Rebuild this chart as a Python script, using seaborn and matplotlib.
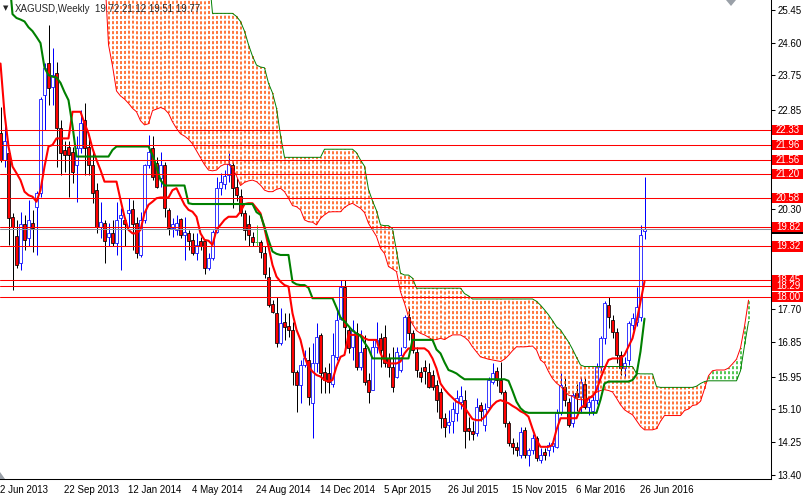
import numpy as np
import pandas as pd
import matplotlib
matplotlib.use("Agg")
import matplotlib.pyplot as plt
import matplotlib.transforms as mtransforms
from matplotlib.collections import LineCollection
from matplotlib.patches import Polygon, Rectangle
import seaborn as sns

# XAGUSD weekly candles, week 0 = 2 Jun 2013 ... week 161 = 3 Jul 2016
opens = [
    22.25, 21.56, 21.73, 20.09, 19.59, 18.88, 19.90, 19.53, 19.92, 20.35,
    20.70, 23.25, 24.07, 23.46, 23.81, 22.38, 21.82, 21.91, 21.78, 21.43,
    21.86, 22.60, 21.91, 21.43, 20.78, 19.83, 19.92, 19.57, 19.66, 19.40,
    20.05, 20.01, 20.18, 20.28, 19.92, 19.10, 20.01, 21.43, 21.86, 21.48,
    21.09, 21.43, 20.27, 19.79, 19.75, 20.03, 19.62, 19.66, 19.49, 19.14,
    19.45, 19.45, 18.75, 19.01, 19.70, 20.83, 20.95, 21.17, 21.43, 20.87,
    20.63, 20.18, 19.90, 19.56, 19.44, 19.44, 19.14, 18.54, 17.83, 17.59,
    16.81, 17.37, 17.26, 17.16, 16.08, 15.73, 16.25, 16.38, 15.26, 16.29,
    17.03, 16.08, 16.03, 15.77, 16.46, 17.45, 18.28, 17.16, 16.72, 17.07,
    16.21, 16.68, 15.86, 15.60, 16.72, 16.94, 16.98, 16.42, 16.21, 15.95,
    16.12, 16.72, 17.50, 17.07, 16.59, 16.08, 16.21, 16.08, 15.99, 15.73,
    15.56, 14.87, 14.70, 14.80, 15.00, 15.30, 15.34, 14.62, 14.55, 14.50,
    15.21, 14.70, 15.15, 15.82, 16.10, 15.86, 15.56, 14.74, 14.22, 14.13,
    13.92, 14.56, 13.92, 14.05, 14.35, 13.79, 14.00, 14.05, 14.15, 14.13,
    15.00, 15.69, 15.30, 14.75, 15.52, 15.43, 15.77, 15.17, 15.05, 15.35,
    16.21, 16.94, 17.80, 17.42, 17.11, 16.51, 16.16, 16.38, 17.29, 17.37,
    17.50, 19.72,
]
highs = [
    22.94, 22.55, 21.78, 20.18, 20.00, 20.22, 20.14, 20.52, 20.27, 20.75,
    23.20, 24.07, 25.06, 24.45, 24.11, 22.60, 22.04, 22.04, 21.91, 22.17,
    22.86, 23.03, 22.17, 21.82, 20.96, 20.48, 20.01, 19.92, 20.01, 20.48,
    20.31, 20.05, 20.57, 20.53, 20.09, 20.22, 21.45, 22.21, 22.17, 21.65,
    21.78, 21.52, 20.31, 20.05, 20.14, 20.05, 20.09, 19.75, 19.66, 19.66,
    19.57, 19.45, 19.14, 19.75, 21.13, 21.22, 21.30, 21.73, 21.50, 21.10,
    20.80, 20.27, 20.14, 19.70, 19.88, 19.49, 19.32, 18.80, 17.93, 18.02,
    17.72, 17.59, 17.59, 17.37, 16.12, 16.38, 16.64, 16.72, 16.81, 17.33,
    17.07, 16.21, 16.29, 17.07, 17.72, 18.45, 18.45, 17.24, 17.42, 17.33,
    17.16, 17.03, 16.03, 16.90, 17.37, 17.07, 17.29, 16.55, 16.72, 16.72,
    16.72, 17.55, 17.72, 17.16, 16.72, 16.21, 16.38, 16.29, 16.12, 15.86,
    15.65, 15.00, 15.08, 15.30, 15.60, 15.70, 15.60, 14.90, 14.80, 15.40,
    15.30, 15.26, 15.95, 16.30, 16.20, 16.34, 15.60, 14.80, 14.35, 14.25,
    14.65, 14.65, 14.10, 14.45, 14.40, 14.10, 14.10, 14.25, 14.35, 15.10,
    16.05, 15.90, 15.40, 15.55, 15.75, 15.95, 15.90, 15.40, 15.45, 16.30,
    17.00, 17.90, 18.02, 17.55, 17.20, 16.60, 16.45, 17.38, 17.60, 18.28,
    19.88, 21.12,
]
lows = [
    21.50, 21.39, 19.36, 18.19, 18.75, 18.71, 19.23, 19.32, 19.19, 19.10,
    20.61, 22.34, 22.99, 22.99, 21.39, 21.17, 21.26, 20.61, 20.96, 20.48,
    21.73, 21.17, 21.17, 20.44, 19.66, 19.53, 18.88, 19.32, 19.32, 19.10,
    18.71, 19.32, 19.83, 19.23, 19.01, 19.06, 19.92, 21.35, 21.04, 20.83,
    20.87, 20.09, 19.62, 19.57, 19.62, 19.53, 18.97, 19.23, 19.10, 18.97,
    19.23, 18.62, 18.71, 18.97, 19.66, 20.65, 20.80, 21.00, 20.31, 20.50,
    20.10, 19.49, 19.32, 19.32, 19.32, 19.01, 18.50, 17.76, 17.59, 16.72,
    16.77, 16.90, 16.98, 15.73, 15.04, 15.26, 16.21, 15.21, 14.35, 16.08,
    15.52, 15.52, 15.52, 15.69, 16.38, 17.42, 16.68, 16.55, 16.38, 16.12,
    16.12, 15.73, 15.26, 15.60, 16.55, 16.21, 16.21, 15.95, 15.56, 15.90,
    16.08, 16.68, 16.90, 16.55, 15.95, 15.82, 15.77, 15.65, 15.60, 15.04,
    14.61, 14.39, 14.48, 14.48, 14.80, 15.10, 14.09, 14.30, 14.30, 14.40,
    14.80, 14.55, 15.10, 15.75, 15.70, 15.50, 14.65, 14.15, 13.95, 13.90,
    13.85, 13.85, 13.62, 13.95, 13.75, 13.70, 13.80, 13.90, 14.00, 14.10,
    14.95, 15.20, 14.65, 14.65, 15.05, 15.00, 15.10, 14.95, 14.95, 15.25,
    16.10, 16.80, 17.20, 16.95, 16.30, 16.00, 15.95, 16.24, 17.15, 17.25,
    17.40, 19.51,
]
closes = [
    21.56, 22.04, 20.05, 19.83, 18.83, 19.90, 19.49, 20.01, 19.79, 20.70,
    23.14, 23.94, 23.42, 23.76, 22.38, 21.73, 21.69, 21.69, 21.26, 21.86,
    22.51, 21.86, 21.43, 20.70, 19.83, 19.96, 19.45, 19.66, 19.40, 20.01,
    20.14, 19.90, 20.27, 19.90, 19.14, 20.01, 21.43, 21.78, 21.13, 20.87,
    21.43, 20.31, 19.79, 19.90, 19.92, 19.62, 19.69, 19.45, 19.14, 19.36,
    19.32, 18.75, 19.01, 19.70, 20.83, 21.00, 21.15, 21.47, 20.83, 20.65,
    20.18, 19.75, 19.62, 19.44, 19.44, 19.19, 18.62, 17.80, 17.63, 16.81,
    17.35, 17.24, 17.16, 16.08, 15.73, 16.25, 16.42, 15.43, 16.29, 16.98,
    16.03, 15.86, 15.82, 16.51, 17.42, 18.28, 17.24, 16.68, 17.16, 16.21,
    16.59, 15.82, 15.56, 16.72, 16.90, 16.64, 16.29, 16.21, 15.69, 16.59,
    16.51, 17.50, 17.07, 16.64, 16.12, 15.95, 16.10, 15.69, 15.69, 15.34,
    14.87, 14.65, 14.78, 15.10, 15.40, 15.45, 14.55, 14.55, 14.45, 15.17,
    15.05, 15.10, 15.86, 16.03, 15.86, 15.56, 14.74, 14.22, 14.13, 14.05,
    14.52, 13.92, 14.05, 14.35, 13.83, 13.92, 13.92, 14.18, 14.22, 15.00,
    15.73, 15.34, 14.70, 15.47, 15.43, 15.82, 15.17, 15.30, 15.35, 16.21,
    16.94, 17.85, 17.50, 17.11, 16.51, 16.16, 16.29, 17.33, 17.46, 17.76,
    19.62, 19.77,
]

# Ichimoku lines (26.5 = above the top of the window)
tenkan = [
    24.06, 22.77, 21.91, 21.39, 21.22, 21.04, 20.74, 20.65, 20.61, 20.48,
    20.78, 21.39, 21.91, 21.95, 22.12, 22.12, 22.12, 22.12, 22.81, 22.81,
    22.81, 22.51, 22.25, 21.86, 21.56, 21.30, 21.00, 21.00, 21.00, 21.00,
    20.53, 20.09, 19.75, 19.66, 19.66, 19.75, 20.18, 20.40, 20.48, 20.57,
    20.59, 20.59, 20.59, 20.78, 20.83, 20.61, 20.40, 20.27, 20.22, 20.09,
    19.66, 19.49, 19.47, 19.36, 19.75, 19.88, 20.01, 20.09, 20.09, 20.09,
    20.22, 20.42, 20.44, 20.44, 20.31, 20.18, 19.79, 19.32, 18.84, 18.54,
    18.41, 18.32, 18.28, 17.59, 17.16, 16.90, 16.46, 16.21, 16.08, 15.99,
    15.95, 15.86, 15.82, 15.86, 16.21, 16.46, 16.51, 17.03, 17.03, 17.03,
    17.03, 16.94, 16.90, 16.90, 16.90, 16.55, 16.34, 16.29, 16.29, 16.29,
    16.34, 16.55, 16.68, 16.68, 16.68, 16.68, 16.68, 16.60, 16.42, 16.16,
    15.77, 15.62, 15.50, 15.40, 15.30, 15.25, 15.15, 15.00, 14.85, 14.82,
    14.82, 14.90, 15.05, 15.20, 15.30, 15.34, 15.30, 15.26, 15.19, 15.13,
    15.05, 15.00, 14.91, 14.60, 14.31, 14.13, 14.13, 14.13, 14.18, 14.57,
    14.87, 14.87, 14.87, 14.87, 14.87, 15.13, 15.21, 15.39, 15.43, 15.60,
    15.90, 16.16, 16.38, 16.42, 16.42, 16.42, 16.51, 16.73, 16.94, 17.37,
    17.89, 18.41,
]
kijun = [
    26.50, 26.50, 26.50, 25.34, 25.24, 25.20, 25.15, 25.00, 24.90, 24.75,
    24.59, 23.95, 23.76, 23.72, 23.70, 23.56, 23.32, 23.11, 22.45, 21.65,
    21.65, 21.65, 21.65, 21.65, 21.65, 21.65, 21.65, 21.65, 21.82, 21.91,
    21.91, 21.91, 21.91, 21.91, 21.91, 21.91, 21.91, 21.91, 21.69, 21.39,
    21.04, 20.90, 20.90, 20.90, 20.90, 20.90, 20.90, 20.44, 20.42, 20.42,
    20.42, 20.42, 20.42, 20.42, 20.42, 20.42, 20.42, 20.42, 20.42, 20.42,
    20.42, 20.42, 20.42, 20.42, 20.21, 20.14, 19.83, 19.49, 19.19, 19.13,
    19.10, 19.10, 19.10, 18.40, 18.34, 18.32, 18.32, 18.25, 17.98, 17.98,
    17.98, 17.98, 17.98, 17.98, 17.74, 17.48, 17.38, 17.26, 17.14, 17.07,
    17.00, 16.83, 16.68, 16.42, 16.42, 16.42, 16.42, 16.42, 16.42, 16.42,
    16.42, 16.42, 16.42, 16.90, 16.90, 16.90, 16.90, 16.90, 16.90, 16.65,
    16.55, 16.32, 16.12, 16.08, 16.03, 15.95, 15.88, 15.88, 15.88, 15.88,
    15.88, 15.88, 15.88, 15.88, 15.88, 15.88, 15.88, 15.84, 15.58, 15.30,
    15.13, 15.04, 15.01, 15.01, 15.01, 15.01, 15.01, 15.01, 15.01, 15.01,
    15.01, 15.01, 15.01, 15.01, 15.01, 15.01, 15.01, 15.01, 15.01, 15.01,
    15.35, 15.77, 15.82, 15.82, 15.82, 15.82, 15.82, 15.82, 15.86, 16.00,
    16.60, 17.45,
]
# leading spans run 26 weeks past the last candle
senkou_a = [
    26.50, 26.50, 26.50, 26.50, 26.50, 26.50, 26.50, 26.50, 26.50, 26.50,
    26.50, 26.50, 26.50, 26.50, 26.50, 26.50, 26.50, 26.50, 26.50, 26.50,
    26.50, 26.50, 26.50, 26.50, 26.50, 26.50, 26.50, 24.55, 24.00, 23.35,
    23.22, 23.14, 23.03, 22.90, 22.81, 22.58, 22.47, 22.50, 22.84, 22.88,
    22.92, 22.88, 22.77, 22.55, 22.38, 22.24, 22.18, 22.10, 21.98, 21.80,
    21.62, 21.44, 21.30, 21.28, 21.30, 21.40, 21.45, 21.45, 21.35, 21.15,
    20.90, 20.98, 21.02, 21.04, 21.00, 20.91, 20.78, 20.74, 20.74, 20.80,
    20.83, 20.74, 20.57, 20.38, 20.35, 20.27, 20.01, 19.96, 19.95, 19.88,
    20.05, 20.14, 20.21, 20.22, 20.22, 20.22, 20.33, 20.40, 20.44, 20.37,
    20.31, 20.20, 19.92, 19.75, 19.58, 19.27, 19.14, 18.80, 18.74, 18.67,
    18.15, 17.85, 17.50, 17.31, 17.14, 17.07, 17.03, 16.97, 16.90, 16.91,
    16.94, 16.91, 16.97, 17.03, 17.03, 17.03, 16.97, 16.88, 16.72, 16.59,
    16.46, 16.43, 16.40, 16.38, 16.36, 16.34, 16.40, 16.50, 16.62, 16.72,
    16.72, 16.72, 16.73, 16.74, 16.64, 16.38, 16.30, 16.08, 15.90, 15.78,
    15.70, 15.58, 15.47, 15.44, 15.37, 15.35, 15.35, 15.39, 15.47, 15.54,
    15.59, 15.61, 15.59, 15.55, 15.39, 15.22, 15.09, 15.02, 14.96, 14.81,
    14.66, 14.57, 14.57, 14.57, 14.60, 14.79, 14.94, 14.94, 14.94, 14.94,
    14.94, 15.07, 15.11, 15.20, 15.22, 15.31, 15.63, 15.97, 16.10, 16.12,
    16.12, 16.12, 16.17, 16.28, 16.40, 16.69, 17.25, 17.93,
]
senkou_b = [
    26.50, 26.50, 26.50, 26.50, 26.50, 26.50, 26.50, 26.50, 26.50, 26.50,
    26.50, 26.50, 26.50, 26.50, 26.50, 26.50, 26.50, 26.50, 26.50, 26.50,
    26.50, 26.50, 26.50, 26.50, 26.50, 26.50, 26.50, 26.50, 26.50, 26.50,
    26.50, 26.50, 26.50, 26.50, 26.50, 26.50, 26.50, 26.50, 26.50, 26.50,
    26.50, 26.50, 26.50, 26.50, 26.50, 26.50, 26.50, 26.50, 26.50, 26.50,
    26.50, 26.50, 26.50, 25.36, 25.36, 25.36, 25.36, 25.36, 25.36, 25.28,
    25.15, 24.90, 24.55, 24.25, 24.02, 23.97, 23.95, 23.55, 23.30, 22.90,
    22.20, 21.63, 21.63, 21.63, 21.63, 21.63, 21.63, 21.63, 21.63, 21.63,
    21.63, 21.84, 21.84, 21.84, 21.84, 21.84, 21.84, 21.84, 21.84, 21.75,
    21.56, 21.40, 20.80, 20.50, 20.25, 19.88, 19.86, 19.86, 19.78, 19.20,
    18.63, 18.58, 18.58, 18.50, 18.24, 18.24, 18.24, 18.24, 18.24, 18.24,
    18.24, 18.24, 18.24, 18.24, 18.24, 18.24, 18.10, 18.04, 17.96, 17.96,
    17.96, 17.96, 17.96, 17.96, 17.96, 17.96, 17.96, 17.96, 17.96, 17.96,
    17.96, 17.96, 17.96, 17.96, 17.90, 17.80, 17.68, 17.55, 17.40, 17.24,
    17.16, 17.00, 16.85, 16.66, 16.45, 16.25, 16.21, 16.21, 16.21, 16.21,
    16.21, 16.21, 16.21, 16.21, 16.21, 16.21, 16.21, 16.21, 16.21, 16.03,
    16.02, 16.02, 16.02, 16.02, 15.69, 15.67, 15.67, 15.67, 15.67, 15.67,
    15.67, 15.67, 15.67, 15.67, 15.70, 15.77, 15.82, 15.84, 15.84, 15.84,
    15.84, 15.84, 15.84, 15.84, 15.84, 16.10, 16.75, 17.37,
]

levels = [22.33, 21.96, 21.56, 21.20, 20.58, 19.82, 19.32, 18.45, 18.29, 18.00]
bid = 19.77
price_ticks = [25.45, 24.60, 23.75, 22.85, 22.00, 21.15, 20.30, 19.45,
               18.55, 17.70, 16.85, 15.95, 15.10, 14.25, 13.40]
hidden_ticks = [22.00, 21.15, 19.45, 18.55]   # covered by the level boxes
date_ticks = [0, 16, 32, 48, 64, 80, 96, 112, 128, 144, 160]
date_labels = ["2 Jun 2013", "22 Sep 2013", "12 Jan 2014", "4 May 2014",
               "24 Aug 2014", "14 Dec 2014", "5 Apr 2015", "26 Jul 2015",
               "15 Nov 2015", "6 Mar 2016", "26 Jun 2016"]

candles = pd.DataFrame({"week": np.arange(len(closes)), "open": opens, "high": highs,
                        "low": lows, "close": closes, "tenkan": tenkan, "kijun": kijun})
cloud = pd.DataFrame({"week": np.arange(len(senkou_a)), "a": senkou_a, "b": senkou_b})

sns.set_style("white")
plt.rcParams["font.family"] = ["Liberation Sans", "DejaVu Sans"]

W, H = 805, 497
fig = plt.figure(figsize=(W / 100, H / 100), dpi=100)
ax = fig.add_axes([0, 18 / H, 771 / W, 479 / H])
y_lo, y_hi = 13.296, 25.706
ax.set_xlim(-0.125, 192.625)   # 4 px per week, bars on pixel centres
ax.set_ylim(y_lo, y_hi)

# cloud hatch: dotted vertical line per week (3 px dash, 2 px gap on a common grid)
hatch_px = 1.5
hatch_lw = hatch_px * 0.72
px_per_unit = 479 / (y_hi - y_lo)
cloud["lo"] = cloud[["a", "b"]].min(axis=1)
cloud["hi"] = cloud[["a", "b"]].max(axis=1)
for bear, colour in ((True, "#ff4a00"), (False, "#1fb51f")):
    part = cloud[(cloud.b > cloud.a) == bear]
    part = part[part.hi - part.lo > 0.01]
    segs = [[(w, lo), (w, hi)] for w, lo, hi in zip(part.week, part.lo, part.hi)]
    styles = [((((lo - y_lo) * px_per_unit) % 5) / hatch_px, (3 / hatch_px, 2 / hatch_px))
              for lo in part.lo]
    hatch = LineCollection(segs, linestyles=styles, linewidths=hatch_lw, zorder=3)
    hatch.set_color(colour)
    ax.add_collection(hatch)

sns.lineplot(data=cloud, x="week", y="a", ax=ax, color="red", linewidth=0.7, zorder=3.5)
sns.lineplot(data=cloud, x="week", y="b", ax=ax, color="#008000", linewidth=0.7, zorder=3.5)

# candles
up = candles[candles.close > candles.open]
dn = candles[candles.close < candles.open]
dj = candles[candles.close == candles.open]
ax.vlines(up.week, up.low, up.high, color="#0000ff", lw=0.72, zorder=2)
ax.vlines(dn.week, dn.low, dn.high, color="black", lw=0.72, zorder=2)
ax.bar(up.week, up.close - up.open, bottom=up.open, width=0.6, facecolor="white",
       edgecolor="#0000ff", linewidth=0.55, zorder=2.2)
ax.bar(dn.week, dn.close - dn.open, bottom=dn.open, width=0.6, facecolor="red",
       edgecolor="black", linewidth=0.55, zorder=2.2)
ax.vlines(dj.week, dj.low, dj.high, color="#3cc43c", lw=0.72, zorder=2)
ax.hlines(dj.open, dj.week - 0.35, dj.week + 0.35, color="#3cc43c", lw=0.72, zorder=2)

sns.lineplot(data=candles, x="week", y="tenkan", ax=ax, color="red", linewidth=1.5, zorder=4)
sns.lineplot(data=candles, x="week", y="kijun", ax=ax, color="#008000", linewidth=1.5, zorder=4)

for lv in levels:
    ax.axhline(lv, color="red", lw=0.75, zorder=5)
ax.axhline(bid, color="#8c929c", lw=0.75, zorder=4.9)

# axes frame and scales
for side in ("left", "top"):
    ax.spines[side].set_visible(False)
for side in ("bottom", "right"):
    ax.spines[side].set_color("black")
    ax.spines[side].set_linewidth(0.75)
ax.set_xlabel("")
ax.set_ylabel("")
ax.yaxis.tick_right()
ax.set_yticks(price_ticks)
ax.set_yticklabels(["" if t in hidden_ticks else f"{t:.2f}" for t in price_ticks])
ax.tick_params(axis="y", right=True, left=False, direction="out", length=3, width=0.75,
               pad=1.5, labelsize=7, colors="black")
ax.set_xticks(date_ticks)
ax.set_xticklabels(date_labels, ha="left")
ax.tick_params(axis="x", length=0, pad=4.5, labelsize=7, colors="black")

# price labels on the right scale; the bid box sits under the 19.82 box
trans = mtransforms.blended_transform_factory(ax.transAxes, ax.transData)
ax.add_patch(Rectangle((772 / 771, bid - 0.13), 31 / 771, 0.26, transform=trans,
                       facecolor="black", edgecolor="none", clip_on=False, zorder=6))
z = 6.01
for v in levels:
    ax.add_patch(Rectangle((772 / 771, v - 0.13), 31 / 771, 0.26, transform=trans,
                           facecolor="red", edgecolor="none", clip_on=False, zorder=z))
    ax.text(776 / 771, v, f"{v:.2f}", transform=trans, color="white", fontsize=7,
            va="center", ha="left", clip_on=False, zorder=z + 0.005)
    z += 0.01

# header text and chart markers
fig.text(6 / W, 1 - 8 / H, "\u25bc", fontsize=5, ha="center", va="center",
         family="DejaVu Sans")
fig.text(15 / W, 1 - 8.5 / H, "XAGUSD,Weekly", fontsize=7, va="center")
fig.text(95 / W, 1 - 8.5 / H, "19.72 21.12 19.51 19.77", fontsize=7, va="center")
fig.add_artist(Polygon([[726 / W, 1.0], [736 / W, 1.0], [731 / W, 1 - 6 / H]],
                       closed=True, transform=fig.transFigure, facecolor="#9aa0a8",
                       edgecolor="none"))
fig.add_artist(Polygon([[0, 1 - 472 / H], [5 / W, 1 - 479 / H], [0, 1 - 479 / H]],
                       closed=True, transform=fig.transFigure, facecolor="#9aa0a8",
                       edgecolor="none"))

fig.savefig("out.png", dpi=100)
